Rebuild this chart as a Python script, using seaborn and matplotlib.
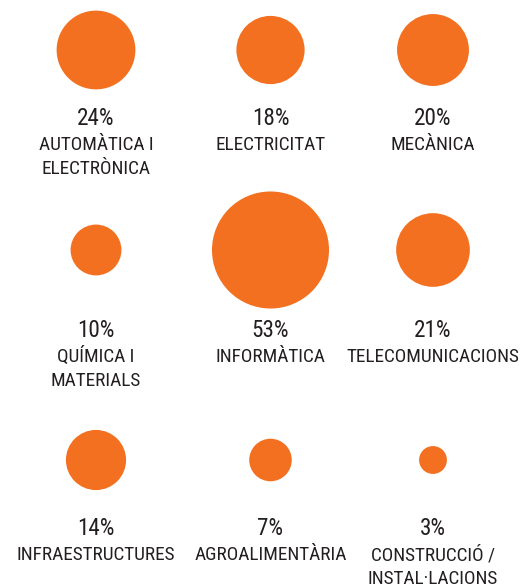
import matplotlib
matplotlib.use("Agg")
import matplotlib.pyplot as plt
from matplotlib import font_manager
import seaborn as sns
import pandas as pd

# ---- data ----
categories = ["AUTOMÀTICA I\nELECTRÒNICA", "ELECTRICITAT", "MECÀNICA",
              "QUÍMICA I\nMATERIALS", "INFORMÀTICA", "TELECOMUNICACIONS",
              "INFRAESTRUCTURES", "AGROALIMENTÀRIA", "CONSTRUCCIÓ /\nINSTAL·LACIONS"]
percentages = [24, 18, 20, 10, 53, 21, 14, 7, 3]
pct_labels = [f"{p}%" for p in percentages]

# ---- layout (pixels) ----
W, H, DPI = 521, 588, 100
col_x = [96, 270.5, 433]
row_circle_y = [50, 250, 460]
row_base_y = [125, 337, 535]     # baseline of the percentage line
line_gap = [25, 49]              # baselines of label lines below percentage
ORANGE = "#F37021"
TEXT = "#231F20"
MAX_LINE_W = 174                 # widest label line in px

installed = {f.name for f in font_manager.fontManager.ttflist}
candidates = ["Roboto Condensed", "Liberation Sans Narrow", "DejaVu Sans Condensed",
              "Open Sans Condensed", "Noto Sans Condensed", "Roboto", "DejaVu Sans"]
main_font = next(c for c in candidates if c in installed)
FONT = [main_font, "DejaVu Sans"]

sns.set_theme(style="white")
plt.rcParams["font.family"] = FONT

df = pd.DataFrame({
    "category": categories,
    "pct": percentages,
    "x": [col_x[i % 3] for i in range(len(categories))],
    "y": [row_circle_y[i // 3] for i in range(len(categories))],
})

fig = plt.figure(figsize=(W / DPI, H / DPI), dpi=DPI)
ax = fig.add_axes([0, 0, 1, 1])
ax.set_xlim(0, W)
ax.set_ylim(H, 0)

# area proportional to percentage: s (pt^2) = 134 * pct at 100 dpi
k = 134.0
sns.scatterplot(data=df, x="x", y="y", size="pct", sizes=(0, k * 53),
                size_norm=(0, 53), color=ORANGE, linewidth=0, legend=False,
                ax=ax)

# choose font size so the widest line fits the column width
renderer = fig.canvas.get_renderer()
all_lines = [ln for c in categories for ln in c.split("\n")]
w10 = max(ax.text(0, 0, ln, fontsize=10).get_window_extent(renderer).width
          for ln in all_lines)
for t in list(ax.texts):
    t.remove()
fs = min(18.0, 10 * MAX_LINE_W / w10)

for i, (cat, lab) in enumerate(zip(categories, pct_labels)):
    x = col_x[i % 3]
    by = row_base_y[i // 3]
    ax.text(x, by, lab, ha="center", va="baseline", fontsize=fs * 1.2, color=TEXT)
    for j, ln in enumerate(cat.split("\n")):
        ax.text(x, by + line_gap[j], ln, ha="center", va="baseline",
                fontsize=fs, color=TEXT)

ax.set_aspect("equal")
ax.axis("off")
fig.savefig("out.png", dpi=DPI, facecolor="white")
